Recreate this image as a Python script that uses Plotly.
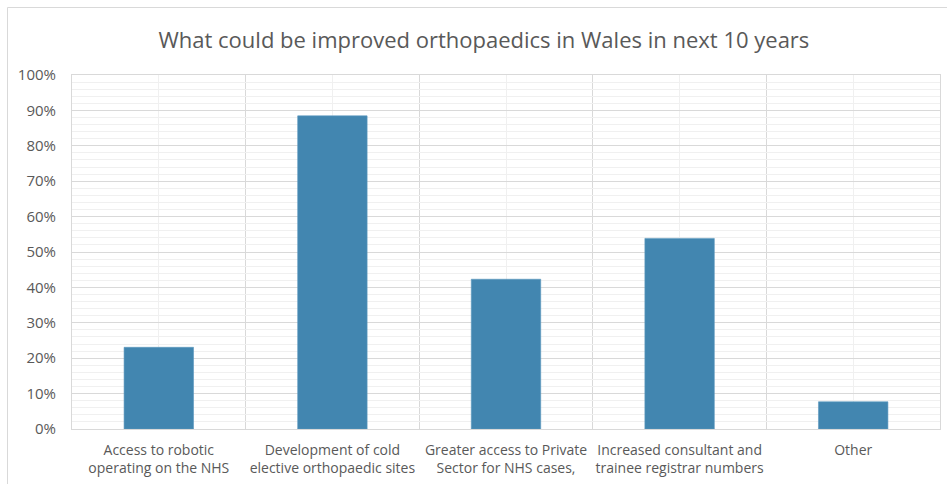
import plotly.graph_objects as go

categories = [
    "Access to robotic<br>operating on the NHS",
    "Development of cold<br>elective orthopaedic sites",
    "Greater access to Private<br>Sector for NHS cases,",
    "Increased consultant and<br>trainee registrar numbers",
    "Other",
]
values = [6/26, 23/26, 11/26, 14/26, 2/26]
y_ticks = [i / 10 for i in range(11)]
y_tick_labels = [f"{i*10}%" for i in range(11)]

x_pos = list(range(len(categories)))
boundaries = [i - 0.5 for i in range(len(categories) + 1)]

fig = go.Figure()
fig.add_trace(go.Bar(
    x=x_pos, y=values, width=0.4,
    marker=dict(color="#4286b0", line=dict(color="#5a97bd", width=0.6)),
    hoverinfo="skip",
))

font_family = "Open Sans, Noto Sans, sans-serif"
fig.update_layout(
    width=947, height=484,
    margin=dict(l=72, r=7, t=75, b=55),
    paper_bgcolor="white", plot_bgcolor="white",
    showlegend=False,
    title=dict(
        text="What could be improved orthopaedics in Wales in next 10 years",
        x=0.511, xanchor="center", y=1 - 40/484, yanchor="middle",
        font=dict(family=font_family, size=22, color="#595959"),
    ),
    xaxis=dict(
        range=[-0.5, 4.5],
        tickmode="array", tickvals=x_pos, ticktext=categories,
        showgrid=True, gridcolor="#f0f0f0", gridwidth=1,
        minor=dict(tickmode="array", tickvals=boundaries, showgrid=True,
                   gridcolor="#d9d9d9", gridwidth=1, ticks=""),
        showline=True, linecolor="#d9d9d9", linewidth=1, mirror=True,
        ticks="outside", ticklen=8, tickcolor="rgba(0,0,0,0)",
        tickfont=dict(family=font_family, size=14, color="#595959"),
        zeroline=False, fixedrange=True,
    ),
    yaxis=dict(
        range=[0, 1],
        tickmode="array", tickvals=y_ticks, ticktext=y_tick_labels,
        showgrid=True, gridcolor="#d9d9d9", gridwidth=1,
        minor=dict(dtick=0.02, showgrid=True, gridcolor="#f0f0f0", gridwidth=1, ticks=""),
        showline=True, linecolor="#d9d9d9", linewidth=1, mirror=True,
        ticks="outside", ticklen=12, tickcolor="rgba(0,0,0,0)",
        tickfont=dict(family=font_family, size=15, color="#595959"),
        zeroline=False, fixedrange=True,
    ),
    shapes=[dict(
        type="rect", xref="paper", yref="paper",
        x0=(7.5 - 72) / 868, x1=(980 - 72) / 868,
        y0=(429 - 520) / 354, y1=(429 - 7.5) / 354,
        line=dict(color="#d9d9d9", width=1), fillcolor="rgba(0,0,0,0)",
        layer="below",
    )],
)

fig.write_html("out.html")
